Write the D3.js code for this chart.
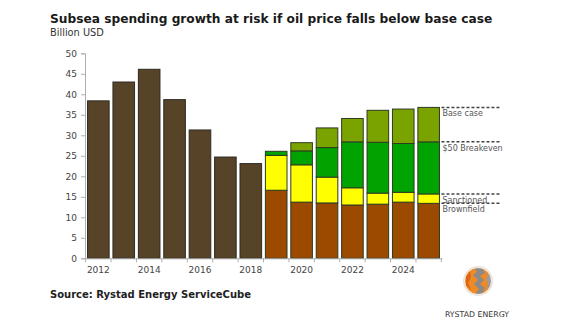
<!DOCTYPE html>
<html>
<head>
  <script src="https://d3js.org/d3.v7.min.js"></script>
  <style>
    body { margin: 0; background: #fff; }
    text { font-family: "DejaVu Sans", Verdana, sans-serif; }
  </style>
</head>
<body>
  <div id="chart"></div>
  <script>
    // data
    var years = [2012, 2013, 2014, 2015, 2016, 2017, 2018, 2019, 2020, 2021, 2022, 2023, 2024, 2025];
    var histYears = [2012, 2013, 2014, 2015, 2016, 2017, 2018];
    var historical = [38.4, 43.0, 46.1, 38.7, 31.3, 24.7, 23.1];
    var fcYears = [2019, 2020, 2021, 2022, 2023, 2024, 2025];
    var brownfield = [16.6, 13.7, 13.5, 13.0, 13.2, 13.7, 13.4];
    var sanctioned = [8.5, 9.1, 6.3, 4.2, 2.7, 2.4, 2.3];
    var breakeven = [1.0, 3.4, 7.2, 11.2, 12.4, 11.9, 12.7];
    var basecase = [0, 2.0, 4.8, 5.7, 7.8, 8.4, 8.4];
    var keys = ["brownfield", "sanctioned", "breakeven", "basecase"];
    var keyLabels = ["Brownfield", "Sanctioned", "$50 Breakeven", "Base case"];
    var labelYears = [2012, 2014, 2016, 2018, 2020, 2022, 2024];
    var yTicks = [0, 5, 10, 15, 20, 25, 30, 35, 40, 45, 50];

    var colors = {
      hist: "#574428",
      brownfield: "#9b4a00",
      sanctioned: "#ffff00",
      breakeven: "#00a300",
      basecase: "#7aa300"
    };

    var svg = d3.select("#chart")
                .append("svg")
                .attr("width", 582)
                .attr("height", 327);

    var x = d3.scaleBand()
              .domain(years)
              .range([85, 442])
              .paddingInner(0.15)
              .paddingOuter(0.1);

    var y = d3.scaleLinear()
              .domain([0, 50])
              .range([258.3, 53.3]);

    // titles
    svg.append("text")
       .attr("x", 50).attr("y", 23)
       .style("font-weight", "bold")
       .style("font-size", "12.2px")
       .attr("fill", "#1a1a1a")
       .text("Subsea spending growth at risk if oil price falls below base case");

    svg.append("text")
       .attr("x", 50).attr("y", 36)
       .style("font-size", "9.8px")
       .attr("fill", "#333")
       .text("Billion USD");

    // historical bars
    svg.selectAll("rect.hist")
       .data(histYears.map((yr, i) => ({ year: yr, value: historical[i] })))
       .enter()
       .append("rect")
       .attr("class", "hist")
       .attr("x", d => x(d.year))
       .attr("width", x.bandwidth())
       .attr("y", d => y(d.value))
       .attr("height", d => y(0) - y(d.value))
       .attr("fill", colors.hist)
       .attr("stroke", "#2e2a22")
       .attr("stroke-width", 1);

    // forecast stacks
    var fcData = fcYears.map((yr, i) => ({
      year: yr,
      brownfield: brownfield[i],
      sanctioned: sanctioned[i],
      breakeven: breakeven[i],
      basecase: basecase[i]
    }));

    var series = d3.stack().keys(keys)(fcData);

    svg.selectAll("g.layer")
       .data(series)
       .enter()
       .append("g")
       .attr("class", "layer")
       .attr("fill", d => colors[d.key])
       .selectAll("rect")
       .data(d => d.filter(p => p[1] - p[0] > 0))
       .enter()
       .append("rect")
       .attr("x", d => x(d.data.year))
       .attr("width", x.bandwidth())
       .attr("y", d => y(d[1]))
       .attr("height", d => y(d[0]) - y(d[1]))
       .attr("stroke", "#2e3a22")
       .attr("stroke-width", 1);

    // y axis
    var yAxis = svg.append("g")
       .attr("transform", "translate(85,0)")
       .call(d3.axisLeft(y).tickValues(yTicks).tickSize(4).tickPadding(4));
    yAxis.select(".domain").attr("stroke", "#b0b0b0");
    yAxis.selectAll(".tick line").attr("stroke", "#b0b0b0");
    yAxis.selectAll(".tick text")
         .attr("fill", "#444")
         .style("font-size", "9px")
         .style("font-family", "DejaVu Sans, Verdana, sans-serif");

    // x axis
    var xAxis = svg.append("g")
       .attr("transform", "translate(0," + y(0) + ")")
       .call(d3.axisBottom(x).tickValues(labelYears).tickSize(0).tickPadding(8));
    xAxis.select(".domain").attr("stroke", "#b0b0b0");
    xAxis.selectAll(".tick text")
         .attr("fill", "#444")
         .style("font-size", "9px")
         .style("font-family", "DejaVu Sans, Verdana, sans-serif");

    // tick marks between bars
    var bounds = years.map(yr => x(yr) - x.step() * x.paddingInner() / 2);
    bounds.push(x(2025) + x.bandwidth() + x.step() * x.paddingInner() / 2);
    svg.selectAll("line.xtick")
       .data(bounds)
       .enter()
       .append("line")
       .attr("class", "xtick")
       .attr("x1", d => d).attr("x2", d => d)
       .attr("y1", y(0)).attr("y2", y(0) + 4)
       .attr("stroke", "#b0b0b0");

    // scenario markers on the right
    var last = series.map(s => s[s.length - 1][1]);
    var mx0 = x(2025) + x.bandwidth() + 2;
    keys.forEach(function (k, i) {
      var yy = y(last[i]);
      svg.append("line")
         .attr("x1", mx0).attr("x2", mx0 + 58)
         .attr("y1", yy).attr("y2", yy)
         .attr("stroke", "#444")
         .attr("stroke-width", 1.5)
         .attr("stroke-dasharray", "3,2");
      svg.append("text")
         .attr("x", mx0 + 1)
         .attr("y", yy + 9)
         .style("font-size", "8px")
         .attr("fill", "#555")
         .text(keyLabels[i]);
    });

    // source
    svg.append("text")
       .attr("x", 50).attr("y", 298)
       .style("font-weight", "bold")
       .style("font-size", "10px")
       .attr("fill", "#222")
       .text("Source: Rystad Energy ServiceCube");

    // logo
    var logo = svg.append("g").attr("transform", "translate(478,281)");
    logo.append("circle").attr("r", 15).attr("fill", "#e6e2de");
    logo.append("circle").attr("r", 13.5).attr("fill", "#f08a24");
    logo.append("path")
        .attr("d", "M-4,-13 L4,-13 L7,-8 L2,-5 L6,-1 L2,3 L7,7 L4,13 L-3,13 L1,8 L-4,3 L0,-1 L-5,-6 L-1,-9 Z")
        .attr("fill", "#8a8a8a");
    logo.append("path")
        .attr("d", "M8,-10 L13,-4 L13,4 L9,10 L10,3 L8,-2 L10,-6 Z")
        .attr("fill", "#9c9c9c");
    logo.append("path")
        .attr("d", "M-12,-4 L-8,-10 L-7,-4 L-10,2 L-7,9 L-12,4 Z")
        .attr("fill", "#d9661a");
    logo.append("circle").attr("r", 13.5).attr("fill", "none")
        .attr("stroke", "#ffffff").attr("stroke-width", 0.8);
    svg.append("text")
       .attr("x", 477).attr("y", 317)
       .attr("text-anchor", "middle")
       .style("font-size", "7.8px")
       .attr("fill", "#333")
       .text("RYSTAD ENERGY");
  </script>
</body>
</html>
